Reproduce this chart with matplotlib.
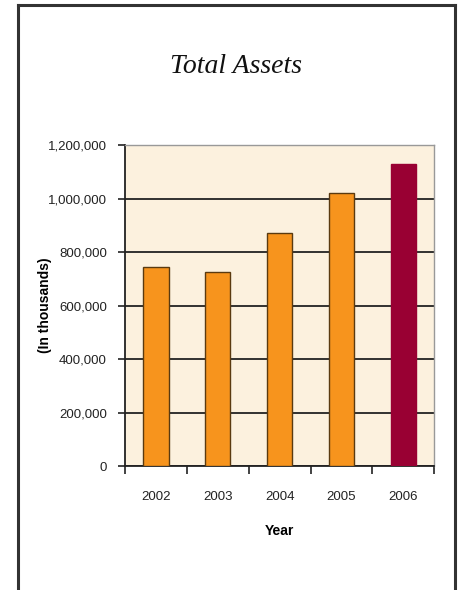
import numpy as np
import matplotlib.pyplot as plt
from matplotlib.lines import Line2D
from matplotlib.ticker import FuncFormatter

# total assets by year (in thousands)
years = ['2002', '2003', '2004', '2005', '2006']
assets = [745000, 725000, 873000, 1020000, 1130000]
bar_colors = ['#F7941D', '#F7941D', '#F7941D', '#F7941D', '#990033']
edge_colors = ['#5a3a10', '#5a3a10', '#5a3a10', '#5a3a10', '#990033']

fig = plt.figure(figsize=(4.58, 5.90), dpi=100)
fig.patch.set_facecolor('white')

# page frame
for xs, ys in [([0.040, 0.040], [0.0, 0.992]),
               ([0.040, 0.993], [0.992, 0.992]),
               ([0.993, 0.993], [0.0, 0.992])]:
    fig.add_artist(Line2D(xs, ys, color='#333333', lw=2.2))

ax = fig.add_axes([0.273, 0.210, 0.675, 0.544])
ax.set_facecolor('#FCF1DE')

x = np.arange(len(years))
ax.bar(x, assets, width=0.41, color=bar_colors, edgecolor=edge_colors,
       linewidth=1.0, zorder=3)

ax.set_xlim(-0.5, len(years) - 0.5)
ax.set_ylim(0, 1200000)
ax.set_yticks(np.arange(0, 1200001, 200000))
ax.yaxis.set_major_formatter(FuncFormatter(lambda v, p: f'{int(v):,}'))
ax.yaxis.grid(True, color='#222222', lw=1.3, zorder=1)

# category ticks sit between the bars, labels centred under them
ax.set_xticks(np.arange(-0.5, len(years)), minor=False)
ax.set_xticklabels([])
ax.set_xticks(x, minor=True)
ax.set_xticklabels(years, minor=True)
ax.tick_params(axis='x', which='major', direction='out', length=6, width=1.2, color='#222222')
ax.tick_params(axis='x', which='minor', length=0, pad=18, labelsize=9.5, labelcolor='#222222')
ax.tick_params(axis='y', direction='out', length=5, width=1.2, color='#222222',
               pad=8, labelsize=9.5, labelcolor='#222222')
for lab in ax.get_xticklabels(minor=True) + ax.get_yticklabels():
    lab.set_family('Liberation Sans')

for side in ['left', 'bottom']:
    ax.spines[side].set_color('#222222')
    ax.spines[side].set_linewidth(1.3)
for side in ['top', 'right']:
    ax.spines[side].set_color('#999999')
    ax.spines[side].set_linewidth(1.0)

ax.set_xlabel('Year', fontsize=10, fontweight='bold', family='Liberation Sans')
ax.set_ylabel('(In thousands)', fontsize=10, fontweight='bold', family='Liberation Sans')
ax.xaxis.set_label_coords(0.5, -0.18)
ax.yaxis.set_label_coords(-0.235, 0.5)

fig.text(0.515, 0.888, 'Total Assets', fontsize=20, style='italic',
         family='Liberation Serif', ha='center', va='center', color='#111111')

fig.savefig('out.png', dpi=100)
